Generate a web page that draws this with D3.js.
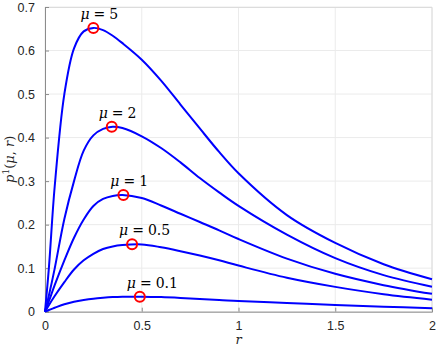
<!DOCTYPE html>
<html>
<head>
<meta charset="utf-8">
<script src="https://cdn.jsdelivr.net/npm/d3@7"></script>
<style>
  body { margin: 0; background: #fff; }
  svg { display: block; }
</style>
</head>
<body>
<div id="chart"></div>
<script>
// r values sampled along the curves
const rValues = [0, 0.02, 0.05, 0.1, 0.15, 0.2, 0.25, 0.3, 0.35, 0.4, 0.5, 0.6, 0.7, 0.8, 0.9, 1.0, 1.25, 1.5, 1.75, 2.0];

const mu5  = [0, 0.10, 0.287, 0.50, 0.605, 0.644, 0.652, 0.647, 0.634, 0.617, 0.579, 0.531, 0.476, 0.421, 0.367, 0.318, 0.222, 0.158, 0.109, 0.0745];
const mu2  = [0, 0.037, 0.099, 0.213, 0.30, 0.37, 0.405, 0.42, 0.425, 0.422, 0.403, 0.376, 0.343, 0.307, 0.274, 0.243, 0.177, 0.123, 0.084, 0.0575];
const mu1  = [0, 0.024, 0.061, 0.118, 0.17, 0.212, 0.243, 0.259, 0.266, 0.268, 0.261, 0.244, 0.225, 0.206, 0.187, 0.167, 0.122, 0.087, 0.061, 0.041];
const mu05 = [0, 0.015, 0.036, 0.068, 0.097, 0.118, 0.133, 0.144, 0.150, 0.153, 0.1545, 0.148, 0.139, 0.129, 0.118, 0.106, 0.078, 0.057, 0.040, 0.0276];
const mu01 = [0, 0.004, 0.009, 0.017, 0.023, 0.027, 0.030, 0.032, 0.0335, 0.0343, 0.0345, 0.0335, 0.0315, 0.029, 0.027, 0.0245, 0.020, 0.0154, 0.0115, 0.0078];

const muLabels = ["5", "2", "1", "0.5", "0.1"];
const peakR    = [0.25, 0.345, 0.405, 0.45, 0.49];
const peakP    = [0.652, 0.425, 0.268, 0.155, 0.0345];

const xTicks = [0, 0.5, 1, 1.5, 2];
const yTicks = [0, 0.1, 0.2, 0.3, 0.4, 0.5, 0.6, 0.7];

const series = [mu5, mu2, mu1, mu05, mu01];

const width = 436, height = 348;
const margin = {top: 7, right: 4, bottom: 36.3, left: 45};
const iw = width - margin.left - margin.right;
const ih = height - margin.top - margin.bottom;

const svg = d3.select('#chart')
    .append('svg')
    .attr('width', width)
    .attr('height', height);

const g = svg.append('g')
    .attr('transform', `translate(${margin.left},${margin.top})`);

const x = d3.scaleLinear().domain([0, 2]).range([0, iw]);
const y = d3.scaleLinear().domain([0, 0.7]).range([ih, 0]);

// grid
g.append('g')
    .selectAll('line')
    .data(xTicks)
    .join('line')
    .attr('x1', d => x(d)).attr('x2', d => x(d))
    .attr('y1', 0).attr('y2', ih)
    .attr('stroke', '#ebebeb');

g.append('g')
    .selectAll('line')
    .data(yTicks)
    .join('line')
    .attr('x1', 0).attr('x2', iw)
    .attr('y1', d => y(d)).attr('y2', d => y(d))
    .attr('stroke', '#ebebeb');

// box (top/right)
g.append('path')
    .attr('d', `M0,0.5H${iw}V${ih}`)
    .attr('fill', 'none')
    .attr('stroke', '#dcdcdc');

// axes
const xAxis = g.append('g')
    .attr('transform', `translate(0,${ih})`)
    .call(d3.axisBottom(x).tickValues(xTicks).tickSize(-4).tickPadding(9)
        .tickFormat(d3.format('~g')));

const yAxis = g.append('g')
    .call(d3.axisLeft(y).tickValues(yTicks).tickSize(-4).tickPadding(10)
        .tickFormat(d3.format('~g')));

[xAxis, yAxis].forEach(ax => {
    ax.select('.domain').attr('stroke', '#8c8c8c');
    ax.selectAll('.tick line').attr('stroke', '#8c8c8c');
    ax.selectAll('.tick text')
        .attr('fill', '#262626')
        .style('font-family', '"Liberation Sans", Arial, sans-serif')
        .style('font-size', '12.5px');
});

// curves
const line = d3.line()
    .x((d, i) => x(rValues[i]))
    .y(d => y(d))
    .curve(d3.curveCatmullRom.alpha(0.5));

g.append('g')
    .selectAll('path')
    .data(series)
    .join('path')
    .attr('d', d => line(d))
    .attr('fill', 'none')
    .attr('stroke', '#0000ff')
    .attr('stroke-width', 2);

// peak markers
g.append('g')
    .selectAll('circle')
    .data(peakR)
    .join('circle')
    .attr('cx', d => x(d))
    .attr('cy', (d, i) => y(peakP[i]))
    .attr('r', 5)
    .attr('fill', 'none')
    .attr('stroke', '#ff0000')
    .attr('stroke-width', 2);

// labels
const lab = g.append('g')
    .selectAll('text')
    .data(muLabels)
    .join('text')
    .attr('x', (d, i) => x(peakR[i]) - 13)
    .attr('y', (d, i) => y(peakP[i]) - 9)
    .attr('fill', '#000')
    .style('font-family', '"DejaVu Serif", "Liberation Serif", serif')
    .style('font-size', '14px');

lab.append('tspan').style('font-style', 'italic').text('μ');
lab.append('tspan').attr('dx', 4).text('=');
lab.append('tspan').attr('dx', 4).text(d => d);

// axis titles
svg.append('text')
    .attr('x', margin.left + iw / 2)
    .attr('y', 344)
    .attr('text-anchor', 'middle')
    .style('font-family', '"DejaVu Serif", "Liberation Serif", serif')
    .style('font-style', 'italic')
    .style('font-size', '13px')
    .attr('fill', '#262626')
    .text('r');

const yl = svg.append('text')
    .attr('transform', `translate(14,${margin.top + ih / 2}) rotate(-90)`)
    .attr('text-anchor', 'middle')
    .style('font-family', '"DejaVu Serif", "Liberation Serif", serif')
    .style('font-size', '13px')
    .attr('fill', '#262626');

yl.append('tspan').style('font-style', 'italic').text('p');
yl.append('tspan').attr('dy', -5).style('font-size', '9px').text('1');
yl.append('tspan').attr('dy', 5).text('(');
yl.append('tspan').style('font-style', 'italic').text('μ');
yl.append('tspan').text(', ');
yl.append('tspan').style('font-style', 'italic').text('r');
yl.append('tspan').text(')');
</script>
</body>
</html>
